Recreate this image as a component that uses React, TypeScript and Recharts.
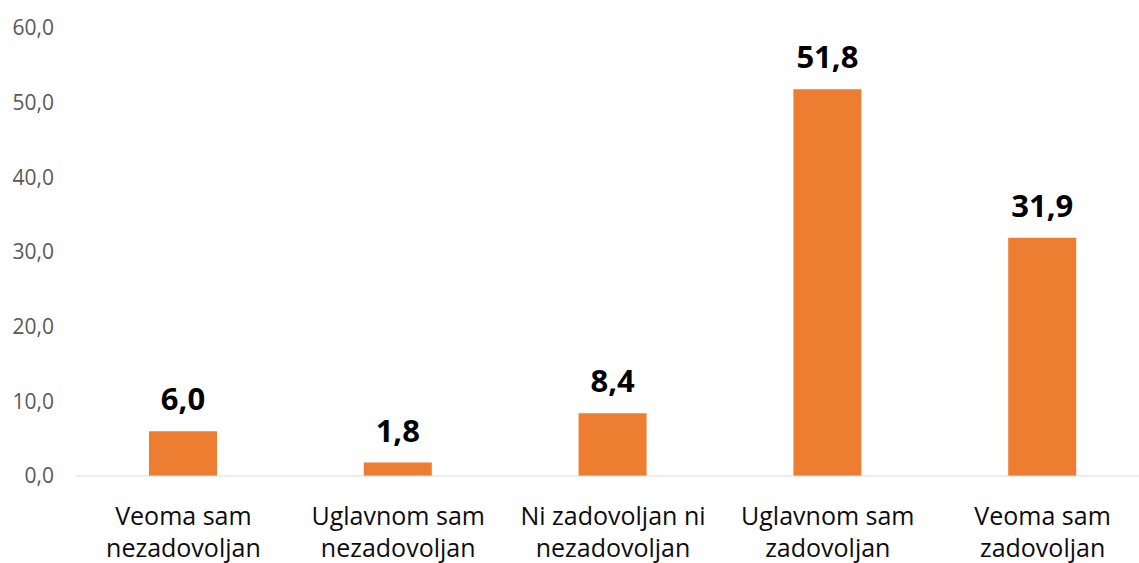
import { BarChart, Bar, XAxis, YAxis, LabelList } from 'recharts';

const categories = [
  'Veoma sam\nnezadovoljan',
  'Uglavnom sam\nnezadovoljan',
  'Ni zadovoljan ni\nnezadovoljan',
  'Uglavnom sam\nzadovoljan',
  'Veoma sam\nzadovoljan',
];
const values = [6.0, 1.8, 8.4, 51.8, 31.9];
const yTicks = [0, 10, 20, 30, 40, 50, 60];

const data = categories.map((c, i) => ({ category: c, value: values[i] }));

const FONT = '"Open Sans", sans-serif';

function fmt(v: number): string {
  return v.toFixed(1).replace('.', ',');
}

function CategoryTick(props: any) {
  const { x, y, payload } = props;
  const lines = String(payload.value).split('\n');
  return (
    <text x={x} y={y} textAnchor="middle" fill="#0d0d0d" fontSize={25} fontFamily={FONT}>
      {lines.map((ln, i) => (
        <tspan key={i} x={x} dy={i === 0 ? 49 : 32}>{ln}</tspan>
      ))}
    </text>
  );
}

export default function App() {
  return (
    <div style={{ position: 'absolute', left: 0, top: 0, width: 1139, height: 563, overflow: 'hidden', background: '#fff' }}>
      <BarChart
        width={1150}
        height={563}
        data={data}
        margin={{ top: 28, right: 0, bottom: 0, left: 0 }}
      >
        <XAxis
          dataKey="category"
          height={87}
          interval={0}
          tickLine={false}
          axisLine={{ stroke: '#d9d9d9', strokeWidth: 1 }}
          tick={<CategoryTick />}
          tickSize={0}
          tickMargin={0}
        />
        <YAxis
          width={76}
          domain={[0, 60]}
          ticks={yTicks}
          interval={0}
          axisLine={false}
          tickLine={false}
          tickSize={0}
          tickMargin={22}
          tickFormatter={fmt}
          tick={{ fill: '#595959', fontSize: 21, fontFamily: FONT }}
        />
        <Bar dataKey="value" fill="#ED7D31" barSize={68} isAnimationActive={false}>
          <LabelList
            dataKey="value"
            position="top"
            offset={21}
            formatter={(v: any) => fmt(Number(v))}
            style={{ fill: '#000', fontSize: 31, fontWeight: 700, fontFamily: FONT }}
          />
        </Bar>
      </BarChart>
    </div>
  );
}
